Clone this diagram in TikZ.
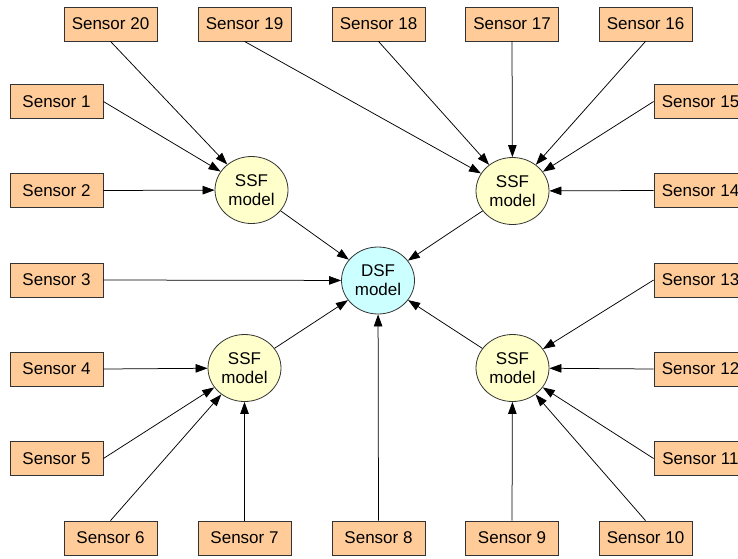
\documentclass[tikz,border=0pt]{standalone}
\usepackage{fontspec}
\setmainfont{Liberation Sans}
\usetikzlibrary{arrows.meta,shapes.geometric}
\definecolor{boxfill}{HTML}{FFCC99}
\definecolor{ssffill}{HTML}{FFFFCC}
\definecolor{dsffill}{HTML}{CCFFFF}
\definecolor{edgegray}{HTML}{333333}
\tikzset{
  sensorbox/.style={rectangle, draw=edgegray, fill=boxfill, line width=0.8pt,
    minimum width=93pt, minimum height=34pt, inner sep=0pt,
    font=\fontsize{17}{19}\selectfont},
  model/.style={ellipse, draw=edgegray, line width=0.8pt, minimum width=73pt,
    minimum height=67pt, inner sep=0pt, align=center,
    font=\fontsize{17}{19}\selectfont},
  ssf/.style={model, fill=ssffill},
  dsf/.style={model, fill=dsffill},
  conn/.style={draw=black, line width=0.75pt, -{Triangle[length=12pt,width=8.5pt]}}
}
\begin{document}
\begin{tikzpicture}[x=1pt,y=-1pt]
\useasboundingbox[fill=white] (0,0) rectangle (738,558);
\clip (0,0) rectangle (738,558);
% models
\node[ssf] (ssf1) at (251.5,190) {SSF\\model};
\node[ssf] (ssf2) at (512.5,191) {SSF\\model};
\node[dsf] (dsf) at (378,280.5) {DSF\\model};
\node[ssf] (ssf3) at (244.5,368) {SSF\\model};
\node[ssf] (ssf4) at (512.5,368) {SSF\\model};
% top row
\node[sensorbox] (s20) at (110.5,24) {Sensor 20};
\node[sensorbox] (s19) at (244.5,24) {Sensor 19};
\node[sensorbox] (s18) at (378.5,24) {Sensor 18};
\node[sensorbox] (s17) at (512,24) {Sensor 17};
\node[sensorbox] (s16) at (645.5,24) {Sensor 16};
% left column
\node[sensorbox] (s1) at (56.5,101.5) {Sensor 1};
\node[sensorbox] (s2) at (56.5,190.5) {Sensor 2};
\node[sensorbox] (s3) at (56.5,280) {Sensor 3};
\node[sensorbox] (s4) at (56.5,369) {Sensor 4};
\node[sensorbox] (s5) at (56.5,458.5) {Sensor 5};
% bottom row
\node[sensorbox] (s6) at (110.5,538) {Sensor 6};
\node[sensorbox] (s7) at (244.5,538) {Sensor 7};
\node[sensorbox] (s8) at (378.5,538) {Sensor 8};
\node[sensorbox] (s9) at (512,538) {Sensor 9};
\node[sensorbox] (s10) at (645.5,538) {Sensor 10};
% right column
\node[sensorbox] (s15) at (700.5,101.5) {Sensor 15};
\node[sensorbox] (s14) at (700.5,190.5) {Sensor 14};
\node[sensorbox] (s13) at (700.5,280) {Sensor 13};
\node[sensorbox] (s12) at (700.5,369) {Sensor 12};
\node[sensorbox] (s11) at (700.5,458.5) {Sensor 11};
% connectors to SSF 1
\draw[conn] (s20.south) -- (ssf1);
\draw[conn] (s1.east) -- (ssf1);
\draw[conn] (s2.east) -- (ssf1);
% connectors to SSF 2
\draw[conn] (s19.south) -- (ssf2);
\draw[conn] (s18.south) -- (ssf2);
\draw[conn] (s17.south) -- (ssf2);
\draw[conn] (s16.south) -- (ssf2);
\draw[conn] (s15.west) -- (ssf2);
\draw[conn] (s14.west) -- (ssf2);
% connectors to SSF 3
\draw[conn] (s4.east) -- (ssf3);
\draw[conn] (s5.east) -- (ssf3);
\draw[conn] (s6.north) -- (ssf3);
\draw[conn] (s7.north) -- (ssf3);
% connectors to SSF 4
\draw[conn] (s9.north) -- (ssf4);
\draw[conn] (s10.north) -- (ssf4);
\draw[conn] (s11.west) -- (ssf4);
\draw[conn] (s12.west) -- (ssf4);
\draw[conn] (s13.west) -- (ssf4);
% connectors to DSF
\draw[conn] (s3.east) -- (dsf);
\draw[conn] (s8.north) -- (dsf);
\draw[conn] (ssf1) -- (dsf);
\draw[conn] (ssf2) -- (dsf);
\draw[conn] (ssf3) -- (dsf);
\draw[conn] (ssf4) -- (dsf);
\end{tikzpicture}
\end{document}
